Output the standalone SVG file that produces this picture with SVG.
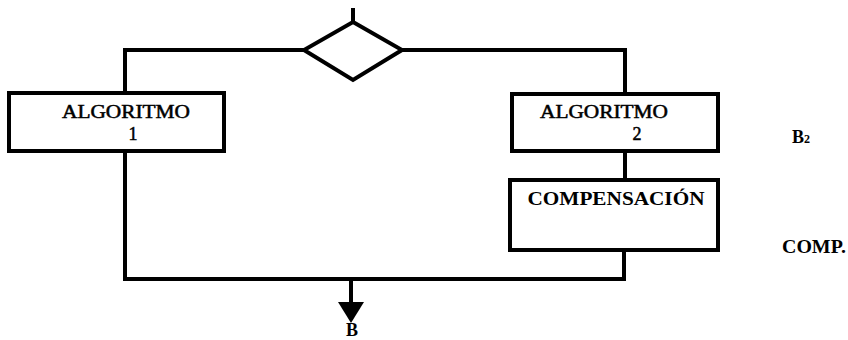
<svg xmlns="http://www.w3.org/2000/svg" width="848" height="340" viewBox="0 0 848 340">
<style>
.ln{fill:none;stroke:#000;stroke-width:4;stroke-linejoin:miter}
.box{fill:#fff;stroke:#000;stroke-width:4}
.t{font-family:"Liberation Serif","Times New Roman",serif;font-size:18px;fill:#000;text-anchor:middle}
.m{stroke:#000;stroke-width:0.5}
.b{font-weight:bold}
</style>
<rect width="848" height="340" fill="#fff"/>
<g id="connectors">
<path class="ln" d="M353 8V22"/>
<path class="ln" d="M304 50H125V93"/>
<path class="ln" d="M402 50H625V94"/>
<path class="ln" d="M625 151V180"/>
<path class="ln" d="M624 250V279H125V151"/>
<path class="ln" d="M351 279V304"/>
<polygon points="338,302 364,302 351,323" fill="#000"/>
</g>
<g id="decision">
<polygon class="box" points="353,22 402,50 353,80 304,50"/>
</g>
<g id="alg1">
<rect class="box" x="9" y="93" width="215" height="58"/>
<text class="t m" x="126" y="118" textLength="128" lengthAdjust="spacingAndGlyphs">ALGORITMO</text>
<text class="t m" x="133" y="140">1</text>
</g>
<g id="alg2">
<rect class="box" x="512" y="94" width="206" height="57"/>
<text class="t m" x="604" y="118" textLength="128" lengthAdjust="spacingAndGlyphs">ALGORITMO</text>
<text class="t m" x="637" y="140">2</text>
</g>
<g id="comp">
<rect class="box" x="510" y="180" width="208" height="70"/>
<text class="t b" x="616" y="205" textLength="177" lengthAdjust="spacingAndGlyphs">COMPENSACIÓN</text>
</g>
<g id="labels">
<text class="t b" x="352" y="336" font-size="16">B</text>
<text class="t b" x="801" y="143">B<tspan font-size="12">2</tspan></text>
<text class="t b" x="814" y="253" textLength="64" lengthAdjust="spacingAndGlyphs">COMP.</text>
</g>
</svg>
